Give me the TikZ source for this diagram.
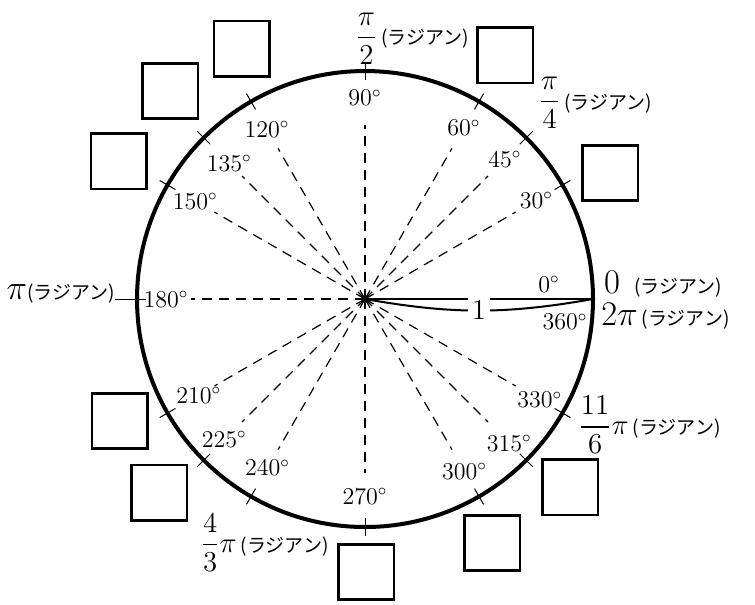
\documentclass[tikz,border=0pt]{standalone}
\usepackage{amsmath}
\usepackage{fontspec}
\newfontfamily\jp{Noto Sans CJK JP}
\usetikzlibrary{positioning}
\newcommand{\rad}{{\jp\fontsize{9.5}{11}\selectfont(ラジアン)}}

\begin{document}
\begin{tikzpicture}[
  font=\large,
  unit/.style={line width=2pt},
  tickmark/.style={line width=0.5pt},
  guide/.style={line width=0.6pt, dash pattern=on 5pt off 3.5pt},
  radius/.style={line width=1pt},
  blank/.style={
    draw, line width=1.2pt,
    minimum size=0.97cm, inner sep=0pt},
  deg/.style={inner sep=1pt},
  radlabel/.style={inner sep=0pt},
  frac/.style={font=\fontsize{13.5}{16}\selectfont}
]
\useasboundingbox (-6.404,-5.351) rectangle (6.842,5.246);

\coordinate (O) at (0,0);
\coordinate (A) at (0:4);

\draw[unit] (O) circle (4);

% ticks, guides and degree labels
\foreach \a/\r in {30/3.47, 45/3.47, 60/3.47, 90/3.53,
    120/3.44, 135/3.37, 150/3.44, 180/3.49,
    210/3.37, 225/3.49, 240/3.42, 270/3.46,
    300/3.49, 315/3.58, 330/3.54} {
  \draw[tickmark] (\a:3.84) -- (\a:4.16);
  \coordinate (g\a) at (\a:3.05);
  \draw[guide] (O) -- (g\a);
  \node[deg] (d\a) at (\a:\r) {$\a^\circ$};
}
\coordinate (t180) at (180:4.38);
\draw[tickmark] (180:4) -- (t180);

\node[deg] (d0)   at (3.23, 0.26) {$0^\circ$};
\node[deg] (d360) at (3.51,-0.40) {$360^\circ$};

% radius 1
\draw[radius] (O) -- (A);
\draw[radius] (O) to[bend right=10]
  node[fill=white, font=\Large, inner sep=2pt] (one) {$1$} (A);

% radian labels
\node[radlabel, anchor=base west] (r0) at (4.19, 0.105)
  {\LARGE$0$\hspace{7pt}\rad};
\node[radlabel, anchor=base west] (r360) at (4.14,-0.456)
  {\LARGE$2\pi$\hspace{2pt}\rad};
\node[radlabel, anchor=base east] (r180) at (t180.west)
  {\LARGE$\pi$\rad};
\node[radlabel, frac, anchor=west] (r90) at (-0.175, 4.57)
  {$\dfrac{\pi}{2}$\hspace{2pt}\rad};
\node[radlabel, frac, anchor=west] (r45) at (3.04, 3.44)
  {$\dfrac{\pi}{4}$\hspace{2pt}\rad};
\node[radlabel, frac, anchor=west] (r330) at (3.74,-2.21)
  {$\dfrac{11}{6}\pi$\hspace{2pt}\rad};
\node[radlabel, frac, anchor=west] (r240) at (-2.89,-4.28)
  {$\dfrac{4}{3}\pi$\hspace{2pt}\rad};

% blank boxes
\foreach \x/\y [count=\i] in {-2.16/4.39, -3.42/3.65, -4.32/2.42,
    2.46/4.28, 4.30/2.21, 3.60/-3.30, 2.23/-4.28,
    0.02/-4.79, -4.30/-2.14, -3.61/-3.40}
  \node[blank] (b\i) at (\x,\y) {};

\end{tikzpicture}
\end{document}
